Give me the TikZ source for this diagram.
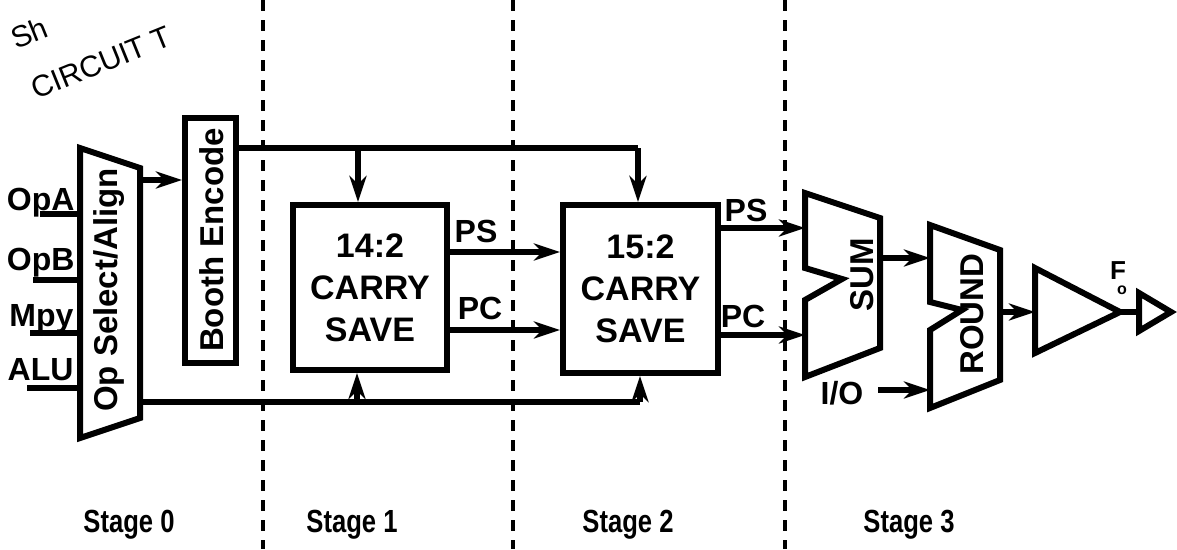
\documentclass[tikz,border=0pt]{standalone}
\usepackage{fontspec}
\setmainfont{Liberation Sans}
\usetikzlibrary{arrows.meta}
\begin{document}
\begin{tikzpicture}[x=1pt,y=-1pt,
  wire/.style={line width=5.5pt},
  arr/.style={wire,-{Stealth[length=26pt,width=17pt,inset=8pt]}},
  blk/.style={draw,line width=6pt,line join=miter},
  rbox/.style={blk,inner sep=0pt,align=center,font=\fontsize{34}{42}\selectfont\bfseries},
  vlbl/.style={rotate=90,font=\fontsize{33}{34}\selectfont\bfseries},
  lbl/.style={font=\fontsize{32}{32}\selectfont\bfseries},
  sig/.style={font=\fontsize{32}{32}\selectfont\bfseries},
  stg/.style={font=\fontsize{32}{32}\selectfont\bfseries},
  stagediv/.style={line width=4.5pt,dash pattern=on 11pt off 9pt},
  hand/.style={font=\fontsize{30}{30}\selectfont,rotate=22,anchor=base west,inner sep=0pt}]
\useasboundingbox (0,0) rectangle (1177,549);

% handwritten note (cut off)
\node[hand] (h1) at (16,50) {Sh};
\node[hand] (h2) at (36,100) {CIRCUIT T};

% stage dividers
\coordinate (d1t) at (263,0); \coordinate (d1b) at (263,549);
\coordinate (d2t) at (513,0); \coordinate (d2b) at (513,549);
\coordinate (d3t) at (785,0); \coordinate (d3b) at (785,549);
\draw[stagediv] (d1t) -- (d1b);
\draw[stagediv] (d2t) -- (d2b);
\draw[stagediv] (d3t) -- (d3b);

% Op Select/Align
\coordinate (os1) at (80,148); \coordinate (os2) at (140,168);
\coordinate (os3) at (140,418); \coordinate (os4) at (80,438);
\draw[blk] (os1) -- (os2) -- (os3) -- (os4) -- cycle;
\node[vlbl] (osl) at (109,290) {Op Select/Align};

% inputs
\node[lbl,anchor=base east] (opa) at (78,210) {OpA};
\node[lbl,anchor=base east] (opb) at (78,270) {OpB};
\node[lbl,anchor=base east] (mpy) at (77,326) {Mpy};
\node[lbl,anchor=base east] (alu) at (77,380) {ALU};
\coordinate (ia) at (40,214); \coordinate (ib) at (33,280);
\coordinate (ic) at (30,333); \coordinate (id) at (27,388);
\draw[wire] (ia) -- (ia-|os1);
\draw[wire] (ib) -- (ib-|os1);
\draw[wire] (ic) -- (ic-|os1);
\draw[wire] (id) -- (id-|os1);

% Booth encode
\node[rbox,minimum width=51pt,minimum height=245pt] (booth) at (210.5,240.5) {};
\node[vlbl] (boothl) at (212,240) {Booth Encode};
\coordinate (osout) at (140,180);
\draw[arr] (osout) -- (osout-|booth.west);

% carry save blocks
\node[rbox,minimum width=154pt,minimum height=165pt] (cs1) at (370,287.5)
  {14:2\\CARRY\\SAVE};
\node[rbox,minimum width=155pt,minimum height=168pt] (cs2) at (640.5,289)
  {15:2\\CARRY\\SAVE};

% top bus from Booth encode
\coordinate (top) at (638,148);
\coordinate (br1) at (358,148);
\draw[wire] (booth.east|-top) -- (top);
\draw[arr] (top) -- (top|-cs2.north);
\draw[arr] (br1) -- (br1|-cs1.north);

% bottom bus from Op select
\coordinate (bot) at (640,402);
\coordinate (br2) at (357,402);
\draw[wire] (os2|-bot) -- (bot);
\draw[arr] (bot) -- (bot|-cs2.south);
\draw[arr] (br2) -- (br2|-cs1.south);

% PS / PC between stages 1 and 2
\coordinate (ps1) at (447,252); \coordinate (pc1) at (447,330);
\draw[arr] (ps1) -- (ps1-|cs2.west);
\draw[arr] (pc1) -- (pc1-|cs2.west);
\node[sig] (ps1l) at (476,231) {PS};
\node[sig] (pc1l) at (480,308) {PC};

% SUM
\coordinate (s1) at (805,193); \coordinate (s2) at (880,218);
\coordinate (s3) at (880,348); \coordinate (s4) at (805,377);
\coordinate (s5) at (805,300); \coordinate (s6) at (842,279);
\coordinate (s7) at (805,268);
\draw[blk] (s1) -- (s2) -- (s3) -- (s4) -- (s5) -- (s6) -- (s7) -- cycle;
\node[vlbl] (suml) at (862,275) {SUM};

% PS / PC into SUM
\coordinate (ps2) at (718,228); \coordinate (pc2) at (718,335);
\draw[arr] (ps2) -- (ps2-|s1);
\draw[arr] (pc2) -- (pc2-|s1);
\node[sig] (ps2l) at (746,210) {PS};
\node[sig] (pc2l) at (743,316) {PC};

% ROUND
\coordinate (r1) at (930,225); \coordinate (r2) at (1000,250);
\coordinate (r3) at (1000,380); \coordinate (r4) at (930,408);
\coordinate (r5) at (930,330); \coordinate (r6) at (962,310);
\coordinate (r7) at (930,302);
\draw[blk] (r1) -- (r2) -- (r3) -- (r4) -- (r5) -- (r6) -- (r7) -- cycle;
\node[vlbl] (roundl) at (972,314) {ROUND};

\coordinate (sumout) at (880,258);
\draw[arr] (sumout) -- (sumout-|r1);

% I/O
\node[lbl] (io) at (842,393) {I/O};
\coordinate (ioa) at (878,390);
\draw[arr] (ioa) -- (ioa-|r1);

% buffers
\coordinate (t1) at (1035,268); \coordinate (t2) at (1120,312); \coordinate (t3) at (1035,353);
\draw[blk] (t1) -- (t2) -- (t3) -- cycle;
\coordinate (rout) at (1000,312);
\draw[arr] (rout) -- (rout-|t1);
\coordinate (u1) at (1139,293); \coordinate (u2) at (1171,312); \coordinate (u3) at (1139,331);
\draw[blk] (u1) -- (u2) -- (u3) -- cycle;
\draw[wire] (t2) -- (u1|-t2);
\node[font=\fontsize{26}{26}\selectfont\bfseries] (fl) at (1118,271) {F};
\node[font=\fontsize{16}{16}\selectfont\bfseries] (fo) at (1122,290) {o};

% stage labels
\node[stg] (st0) at (129,525) {\scalebox{0.8}[1]{Stage 0}};
\node[stg] (st1) at (352,525) {\scalebox{0.8}[1]{Stage 1}};
\node[stg] (st2) at (628,525) {\scalebox{0.8}[1]{Stage 2}};
\node[stg] (st3) at (909,525) {\scalebox{0.8}[1]{Stage 3}};
\end{tikzpicture}
\end{document}
